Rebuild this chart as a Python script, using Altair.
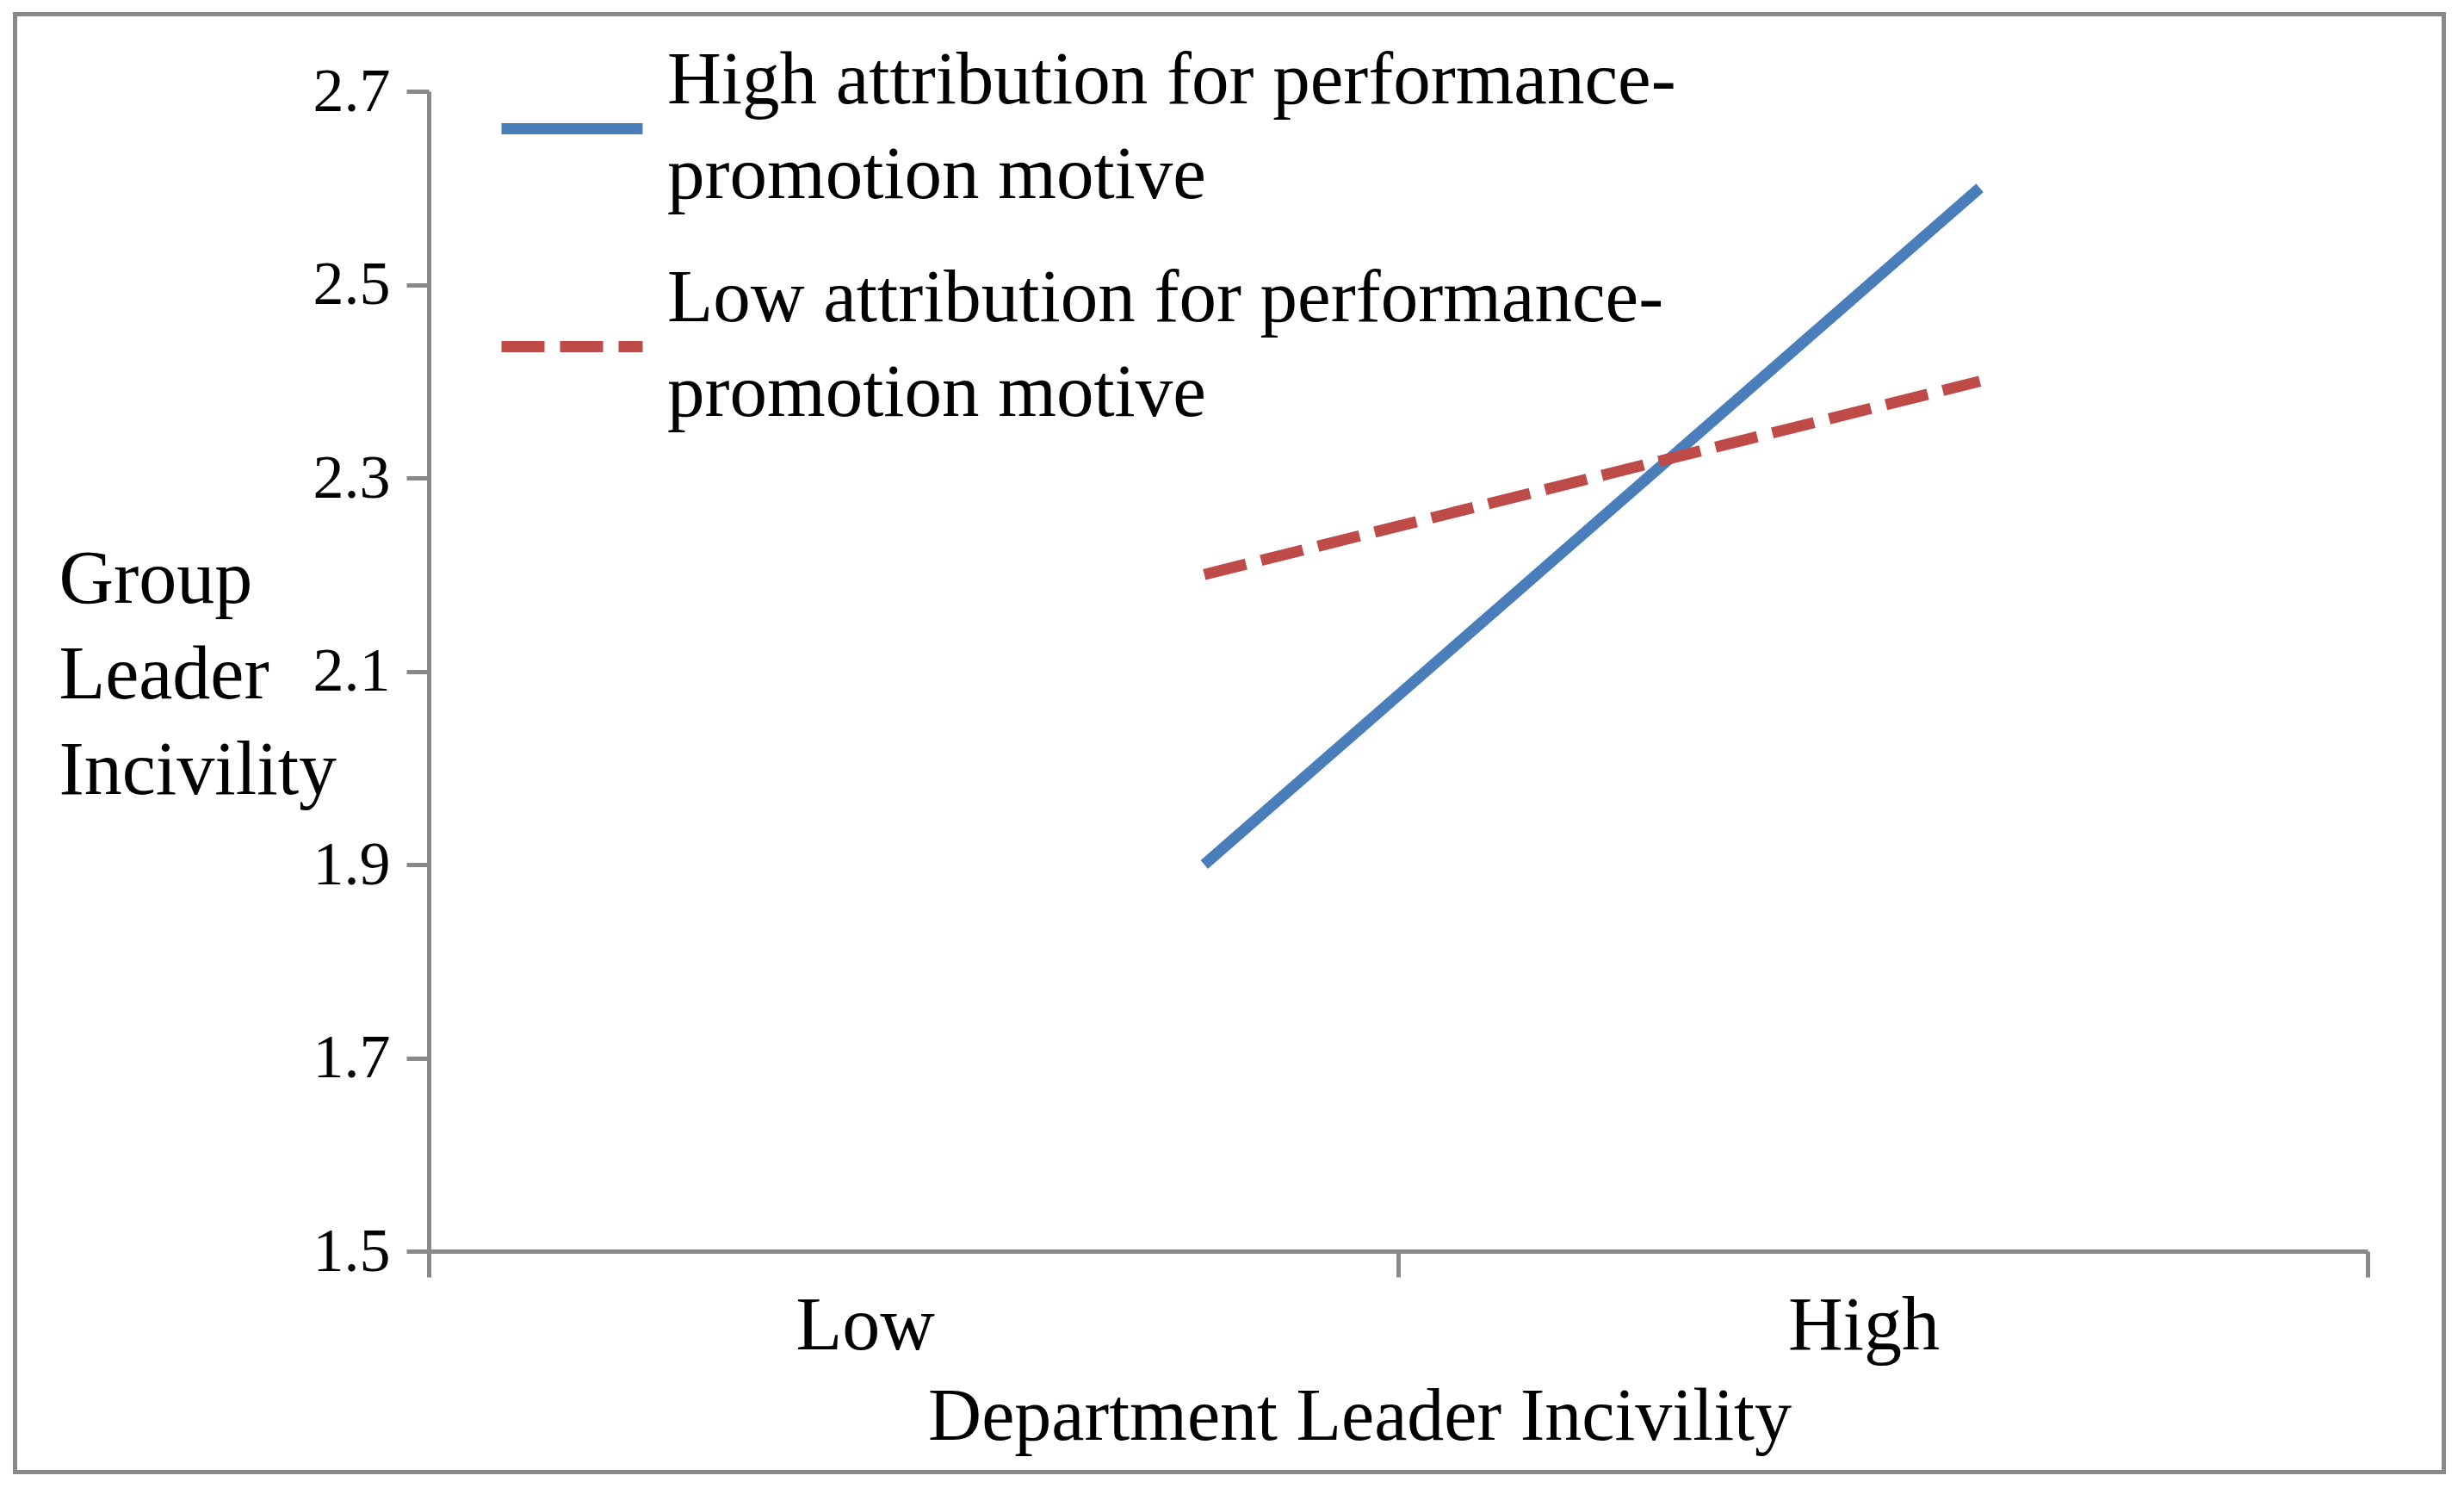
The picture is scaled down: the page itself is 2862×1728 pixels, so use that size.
import altair as alt
import pandas as pd

# ---- data ----
series_names = [
    "High attribution for performance-promotion motive",
    "Low attribution for performance-promotion motive",
]
x_values = [0.8, 1.6]            # position of the two end points on the x scale
high_values = [1.9, 2.6]         # High attribution series
low_values = [2.2, 2.4]          # Low attribution series
y_ticks = [1.5, 1.7, 1.9, 2.1, 2.3, 2.5, 2.7]
x_tick_marks = [0, 1, 2]
x_tick_labels = ["Low", "High"]
x_label_at = [0.45, 1.48]

rows = []
for name, vals in zip(series_names, [high_values, low_values]):
    for xv, yv in zip(x_values, vals):
        rows.append({"series": name, "x": xv, "y": yv})
df = pd.DataFrame(rows)

FONT = "Liberation Serif"
GREY = "#898989"
BLUE = "#4A7EBB"
RED = "#BE4B48"

W, H = 2252, 1347

# label expression for the category labels placed between the ticks
expr = "''"
for pos, lab in reversed(list(zip(x_label_at, x_tick_labels))):
    expr = f"(abs(datum.value - {pos}) < 0.001 ? '{lab}' : {expr})"

tick_test = " || ".join(f"datum.value == {t}" for t in x_tick_marks)

legend = alt.Legend(
    title=None,
    orient="none",
    legendX=78,
    legendY=-45,
    symbolType="stroke",
    symbolSize=164 * 164,
    symbolStrokeWidth=13,
    labelFont=FONT,
    labelFontSize=87,
    labelColor="black",
    labelBaseline="line-bottom",
    labelOffset=22,
    labelLimit=3000,
    rowPadding=55,
    labelExpr="split(replace(datum.label, 'performance-', 'performance-|'), '|')",
)

lines = alt.Chart(df).mark_line(strokeWidth=13, strokeCap="butt").encode(
    x=alt.X(
        "x:Q",
        scale=alt.Scale(domain=[0, 2], nice=False, zero=False),
        axis=alt.Axis(
            values=sorted(x_tick_marks + x_label_at),
            labelExpr=expr,
            labelOverlap=False,
            labelFlush=False,
            labelFont=FONT,
            labelFontSize=88,
            labelColor="black",
            labelBaseline="alphabetic",
            labelPadding=83,
            tickSize=30,
            tickWidth=5,
            tickColor=GREY,
            tickOpacity={"condition": {"test": tick_test, "value": 1}, "value": 0},
            domainColor=GREY,
            domainWidth=5,
            grid=False,
            title="Department Leader Incivility",
            titleFont=FONT,
            titleFontSize=86,
            titleFontWeight="normal",
            titleColor="black",
            titleX=1081,
            titleY=218,
            titleAlign="center",
            titleBaseline="alphabetic",
        ),
    ),
    y=alt.Y(
        "y:Q",
        scale=alt.Scale(domain=[1.5, 2.7], nice=False, zero=False),
        axis=alt.Axis(
            values=y_ticks,
            format=".1f",
            labelFont=FONT,
            labelFontSize=72,
            labelColor="black",
            labelPadding=19,
            tickSize=26,
            tickWidth=5,
            tickColor=GREY,
            domainColor=GREY,
            domainWidth=5,
            grid=False,
            title=["Group", "Leader", "Incivility"],
            titleFont=FONT,
            titleFontSize=88,
            titleFontWeight="normal",
            titleColor="black",
            titleAngle=0,
            titleAlign="left",
            titleBaseline="alphabetic",
            titleLineHeight=111,
            titleX=-430,
            titleY=593,
        ),
    ),
    color=alt.Color(
        "series:N",
        scale=alt.Scale(domain=series_names, range=[BLUE, RED]),
        legend=legend,
    ),
    strokeDash=alt.StrokeDash(
        "series:N",
        scale=alt.Scale(domain=series_names, range=[[1, 0], [50, 18]]),
        legend=legend,
    ),
)

frame = alt.Chart(pd.DataFrame({"f": [0]})).mark_rect(
    fill="transparent", stroke=GREY, strokeWidth=5
).encode(
    x=alt.value(-480.5),
    x2=alt.value(2340.5),
    y=alt.value(-89.5),
    y2=alt.value(1603.5),
)

chart = alt.layer(frame, lines).properties(
    width=W,
    height=H,
    padding={"left": 490, "top": 98, "right": 95, "bottom": 262},
    autosize=alt.AutoSizeParams(type="none"),
    background="white",
).configure(
    style={"guide-label": {"lineHeight": 110}},
).configure_view(stroke=None)

chart.save("out.html", embed_options={"renderer": "svg", "actions": False})
